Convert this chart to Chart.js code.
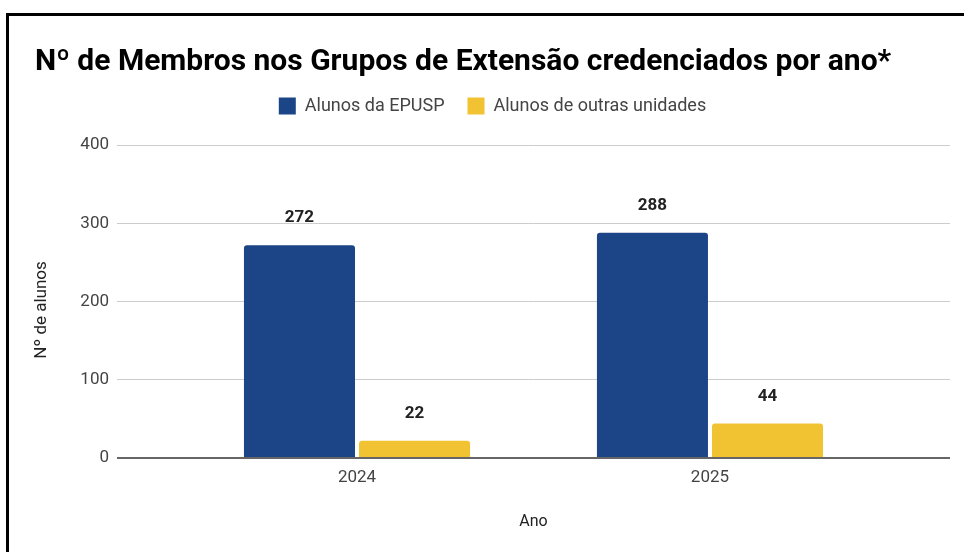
<!DOCTYPE html>
<html>
<head>
<meta charset="utf-8">
<script src="https://cdn.jsdelivr.net/npm/chart.js@4/dist/chart.umd.min.js"></script>
<style>
  body { margin: 0; background: #fff; }
  #wrap { position: relative; width: 964px; height: 552px; }
  #frame {
    position: absolute; left: 6px; top: 13px; right: 0; bottom: 0;
    border-top: 3px solid #000; border-left: 3px solid #000;
    pointer-events: none;
  }
</style>
</head>
<body>
<div id="wrap">
  <canvas id="chart-membros" width="964" height="552"></canvas>
  <div id="frame"></div>
</div>
<script>
const anos = [2024, 2025]
const alunosEpusp = [272, 288]
const alunosOutras = [22, 44]
const yTicks = [0, 100, 200, 300, 400]

// rótulos de valor acima das barras
const valueLabels = {
  id: 'valueLabels',
  afterDatasetsDraw(chart) {
    const ctx = chart.ctx
    ctx.save()
    ctx.font = 'bold 17px Roboto'
    ctx.fillStyle = '#222'
    ctx.textAlign = 'center'
    ctx.textBaseline = 'middle'
    chart.data.datasets.forEach((ds, i) => {
      chart.getDatasetMeta(i).data.forEach((bar, j) => {
        ctx.fillText(ds.data[j].y, bar.x, bar.y - 27)
      })
    })
    ctx.restore()
  },
}

// espaço extra entre a legenda e o gráfico
const legendGap = {
  id: 'legendGap',
  beforeInit(chart) {
    const fit = chart.legend.fit
    chart.legend.fit = function () {
      fit.call(this)
      this.height += 20
    }
  },
}

const barConfigMembros = {
  type: 'bar',
  data: {
    datasets: [
      {
        label: 'Alunos da EPUSP',
        backgroundColor: '#1c4587',
        data: anos.map((a, i) => ({ x: a, y: alunosEpusp[i] })),
      },
      {
        label: 'Alunos de outras unidades',
        backgroundColor: '#f1c232',
        data: anos.map((a, i) => ({ x: a, y: alunosOutras[i] })),
      },
    ],
  },
  options: {
    responsive: false,
    animation: false,
    categoryPercentage: 0.652,
    barPercentage: 0.965,
    borderRadius: 3,
    layout: { padding: { left: 35, right: 14, top: 0, bottom: 0 } },
    plugins: {
      title: {
        display: true,
        text: 'Nº de Membros nos Grupos de Extensão credenciados por ano*',
        align: 'start',
        color: '#000',
        font: { family: 'Roboto', size: 30, weight: 'bold' },
        padding: { top: 44, bottom: -6 },
      },
      legend: {
        labels: {
          color: '#444',
          font: { family: 'Roboto', size: 18 },
          boxWidth: 17,
          boxHeight: 17,
          padding: 23,
        },
      },
      tooltip: { enabled: false },
    },
    scales: {
      x: {
        type: 'linear',
        offset: false,
        min: 2023.32,
        max: 2025.68,
        afterBuildTicks: axis => { axis.ticks = anos.map(v => ({ value: v })) },
        afterFit: axis => { axis.height = 94 },
        grid: { display: false, drawTicks: false },
        border: { display: false },
        ticks: {
          color: '#444',
          font: { family: 'Roboto', size: 17 },
          padding: 10,
          callback: v => String(v),
        },
        title: {
          display: true,
          text: 'Ano',
          color: '#222',
          font: { family: 'Roboto', size: 16 },
          padding: { top: 0, bottom: 20 },
        },
      },
      y: {
        min: 0,
        max: 400,
        afterBuildTicks: axis => { axis.ticks = yTicks.map(v => ({ value: v })) },
        afterFit: axis => { axis.width = 82 },
        border: { display: false },
        grid: {
          drawTicks: false,
          color: c => (c.tick.value === 0 ? '#666' : '#ccc'),
          lineWidth: c => (c.tick.value === 0 ? 2 : 1),
        },
        ticks: {
          color: '#444',
          font: { family: 'Roboto', size: 17 },
          padding: 8,
        },
        title: {
          display: true,
          text: 'Nº de alunos    ',
          color: '#222',
          font: { family: 'Roboto', size: 17 },
          padding: { top: -3, bottom: 0 },
        },
      },
    },
  },
  plugins: [valueLabels, legendGap],
}

const chartMembros = document.getElementById('chart-membros')
window.myBar = new Chart(chartMembros, barConfigMembros)
</script>
</body>
</html>
